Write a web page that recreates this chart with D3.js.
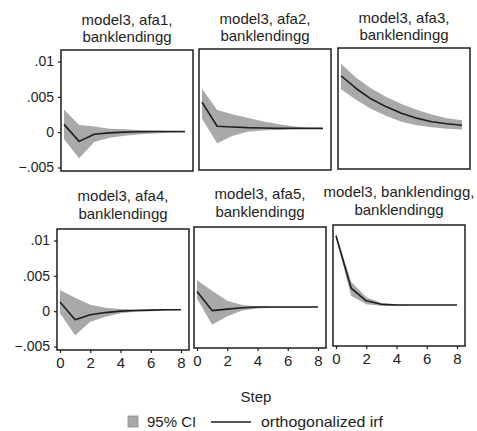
<!DOCTYPE html>
<html>
<head>
<meta charset="utf-8">
<script src="https://cdn.jsdelivr.net/npm/d3@7"></script>
<style>
  html, body { margin: 0; padding: 0; background: #fff; }
  svg { display: block; }
  text { font-family: "Liberation Sans", Arial, Helvetica, sans-serif; fill: #1e1e1e; }
</style>
</head>
<body>
<svg id="chart" width="477" height="431"></svg>
<script>
// ---- data ----
const steps = [0, 1, 2, 3, 4, 5, 6, 7, 8];

const titlesLine1 = ["model3, afa1,", "model3, afa2,", "model3, afa3,",
                     "model3, afa4,", "model3, afa5,", "model3, banklendingg,"];
const titlesLine2 = ["banklendingg", "banklendingg", "banklendingg",
                     "banklendingg", "banklendingg", "banklendingg"];

// orthogonalized irf
const irfAfa1 = [0.0011, -0.0013, -0.0003, -0.0001, 0.0000, 0.00005, 0.0001, 0.0001, 0.0001];
const irfAfa2 = [0.0041, 0.0007, 0.0006, 0.0005, 0.00045, 0.0004, 0.0004, 0.0004, 0.0004];
const irfAfa3 = [0.0077, 0.0059, 0.0044, 0.0033, 0.0024, 0.0017, 0.0012, 0.0009, 0.0007];
const irfAfa4 = [0.0013, -0.0012, -0.0005, -0.0002, 0.0000, 0.0001, 0.00015, 0.0002, 0.0002];
const irfAfa5 = [0.0025, -0.0002, 0.0000, 0.0002, 0.0003, 0.0003, 0.0003, 0.0003, 0.0003];
const irfBank = [0.0101, 0.0027, 0.0009, 0.0004, 0.0003, 0.0003, 0.0003, 0.0003, 0.0003];

// 95% CI lower bounds
const loAfa1 = [-0.0010, -0.0037, -0.0014, -0.0008, -0.0005, -0.0003, -0.0002, -0.0001, -0.00005];
const loAfa2 = [0.0018, -0.0017, -0.0007, -0.0001, 0.0001, 0.0002, 0.0003, 0.00035, 0.0004];
const loAfa3 = [0.0058, 0.0043, 0.0030, 0.0020, 0.0012, 0.0007, 0.0004, 0.0002, 0.0001];
const loAfa4 = [-0.0003, -0.0034, -0.0015, -0.0008, -0.0003, -0.0001, 0.0000, 0.0001, 0.00015];
const loAfa5 = [0.0015, -0.0022, -0.0010, -0.0002, 0.0001, 0.0002, 0.00025, 0.00025, 0.00025];
const loBank = [0.0098, 0.0016, 0.0004, 0.0002, 0.0002, 0.0003, 0.0003, 0.0003, 0.0003];

// 95% CI upper bounds
const hiAfa1 = [0.0032, 0.0010, 0.0008, 0.0005, 0.0004, 0.0003, 0.0002, 0.00015, 0.00012];
const hiAfa2 = [0.0060, 0.0030, 0.0024, 0.0019, 0.0014, 0.0010, 0.0007, 0.0005, 0.00045];
const hiAfa3 = [0.0094, 0.0074, 0.0059, 0.0047, 0.0037, 0.0029, 0.0022, 0.0017, 0.0014];
const hiAfa4 = [0.0030, 0.0019, 0.0009, 0.0005, 0.0003, 0.00025, 0.00025, 0.00025, 0.00025];
const hiAfa5 = [0.0041, 0.0026, 0.0012, 0.0006, 0.0004, 0.00035, 0.00035, 0.00035, 0.00035];
const hiBank = [0.0104, 0.0036, 0.0014, 0.0006, 0.0004, 0.0003, 0.0003, 0.0003, 0.0003];

const yTicks = [-0.005, 0, 0.005, 0.01];
const yTickLabels = ["\u2212.005", "0", ".005", ".01"];
const xTicks = [0, 2, 4, 6, 8];
const xTickLabels = ["0", "2", "4", "6", "8"];

const xAxisTitle = "Step";
const legendLabels = ["95% CI", "orthogonalized irf"];

// ---- layout ----
const panelLefts = [61, 199, 338, 57, 194, 333];
const panelTops  = [50, 49, 48, 229, 227, 225];
const panelW = 132, panelH = 121;

const irfs = [irfAfa1, irfAfa2, irfAfa3, irfAfa4, irfAfa5, irfBank];
const los  = [loAfa1, loAfa2, loAfa3, loAfa4, loAfa5, loBank];
const his  = [hiAfa1, hiAfa2, hiAfa3, hiAfa4, hiAfa5, hiBank];

const bandColor = "#a9a9a9";
const inkColor = "#1e1e1e";

const svg = d3.select("#chart");

irfs.forEach((irf, i) => {
  const left = panelLefts[i], top = panelTops[i];
  const row = Math.floor(i / 3), col = i % 3;
  const x = d3.scaleLinear().domain([0, 8]).range([left + 3, left + 124]);
  const y = d3.scaleLinear().domain([-0.005, 0.01]).range([top + 117.5, top + 11.5]);

  const rows = steps.map((s, k) => ({ s, irf: irf[k], lo: los[i][k], hi: his[i][k] }));

  const g = svg.append("g");

  g.append("path")
    .datum(rows)
    .attr("fill", bandColor)
    .attr("stroke", "none")
    .attr("d", d3.area().x(d => x(d.s)).y0(d => y(d.lo)).y1(d => y(d.hi)));

  g.append("path")
    .datum(rows)
    .attr("fill", "none")
    .attr("stroke", inkColor)
    .attr("stroke-width", 1.6)
    .attr("stroke-linejoin", "round")
    .attr("d", d3.line().x(d => x(d.s)).y(d => y(d.irf)));

  // frame
  g.append("rect")
    .attr("x", left).attr("y", top)
    .attr("width", panelW).attr("height", panelH)
    .attr("fill", "none")
    .attr("stroke", inkColor)
    .attr("stroke-width", 1.5);

  // titles
  const cx = left + panelW / 2;
  const t1 = row === 0 ? 25 : 28, t2 = row === 0 ? 8 : 10;
  g.append("text").attr("x", cx).attr("y", top - t1)
    .attr("text-anchor", "middle").attr("font-size", 15).text(titlesLine1[i]);
  g.append("text").attr("x", cx).attr("y", top - t2)
    .attr("text-anchor", "middle").attr("font-size", 15).text(titlesLine2[i]);

  // y axis on left column
  if (col === 0) {
    const ax = g.append("g")
      .attr("transform", `translate(${left},0)`)
      .call(d3.axisLeft(y).tickValues(yTicks)
        .tickFormat((d, k) => yTickLabels[k])
        .tickSize(3).tickSizeOuter(0).tickPadding(4));
    ax.select(".domain").remove();
    ax.selectAll("line").attr("stroke", inkColor).attr("stroke-width", 1.2);
    ax.selectAll("text").attr("font-size", 14)
      .style("font-family", '"Liberation Sans", Arial, sans-serif').attr("fill", inkColor);
  }
  // x axis on bottom row
  if (row === 1) {
    const ax = g.append("g")
      .attr("transform", `translate(0,${top + panelH})`)
      .call(d3.axisBottom(x).tickValues(xTicks)
        .tickFormat((d, k) => xTickLabels[k])
        .tickSize(3).tickSizeOuter(0).tickPadding(4));
    ax.select(".domain").remove();
    ax.selectAll("line").attr("stroke", inkColor).attr("stroke-width", 1.2);
    ax.selectAll("text").attr("font-size", 15)
      .style("font-family", '"Liberation Sans", Arial, sans-serif').attr("fill", inkColor);
  }
});

// x axis title
svg.append("text").attr("x", 256).attr("y", 402)
  .attr("text-anchor", "middle").attr("font-size", 15).text(xAxisTitle);

// legend
svg.append("rect").attr("x", 128).attr("y", 416).attr("width", 10).attr("height", 11)
  .attr("fill", bandColor).attr("stroke", "#8a8a8a").attr("stroke-width", 0.8);
svg.append("text").attr("x", 147).attr("y", 427).attr("font-size", 15).text(legendLabels[0]);
svg.append("line").attr("x1", 211).attr("x2", 251).attr("y1", 422).attr("y2", 422)
  .attr("stroke", inkColor).attr("stroke-width", 1.5);
svg.append("text").attr("x", 261).attr("y", 427).attr("font-size", 15)
  .attr("textLength", 122).attr("lengthAdjust", "spacingAndGlyphs").text(legendLabels[1]);
</script>
</body>
</html>
